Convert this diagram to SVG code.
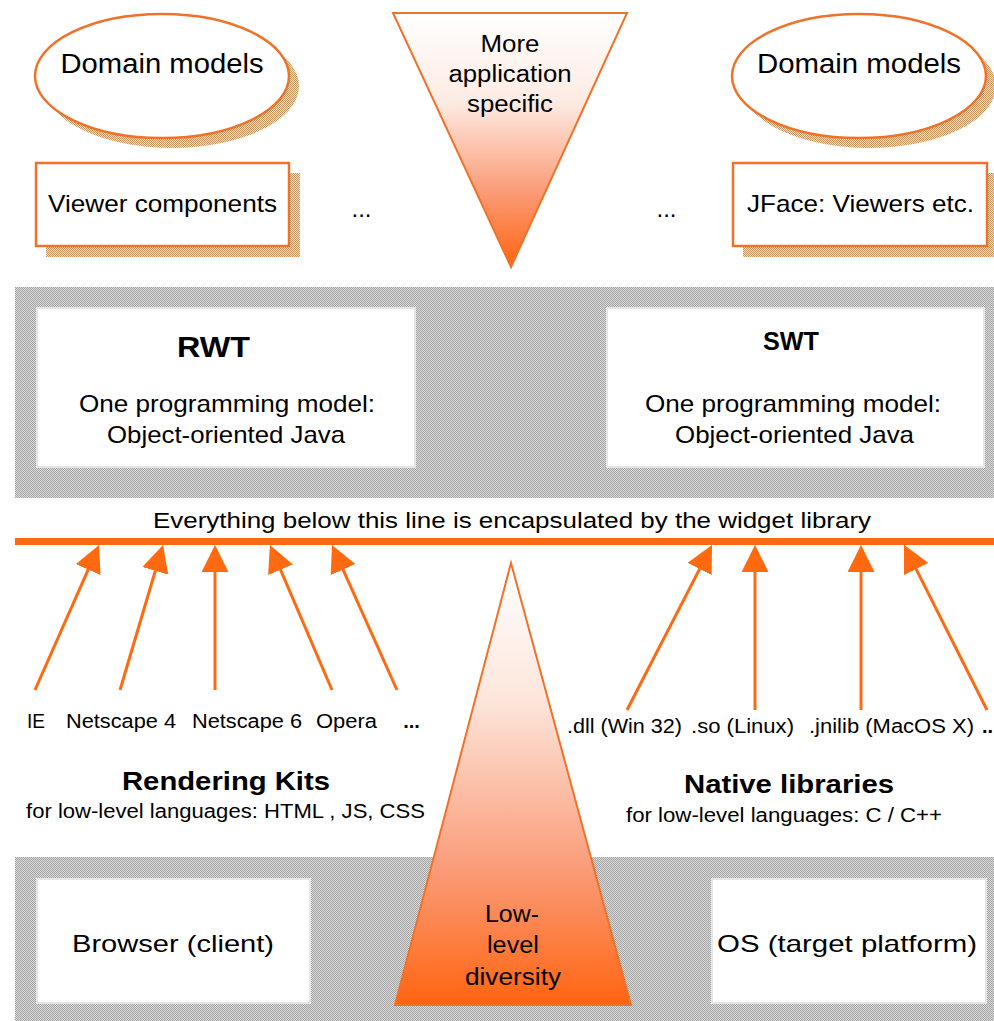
<svg xmlns="http://www.w3.org/2000/svg" width="994" height="1021" viewBox="0 0 994 1021">
<style>
text{font-family:"Liberation Sans",Arial,sans-serif;fill:#000;text-anchor:middle}
.n{font-size:24px}
.s{font-size:20px}
.b{font-weight:bold}
.node{fill:#fff;stroke:#f07228;stroke-width:2.5}
.box{fill:#fff;stroke:#e6e6e6;stroke-width:2}
.band{fill:url(#grey)}
.sh{fill:url(#tan)}
.arr{stroke:#ff6a10;stroke-width:3;fill:none;marker-end:url(#ah)}
</style>
<defs>
<pattern id="grey" width="2" height="2" patternUnits="userSpaceOnUse">
<rect width="2" height="2" fill="#d8d8d8"/><rect width="1" height="1" fill="#a6a6a6"/><rect x="1" y="1" width="1" height="1" fill="#a6a6a6"/>
</pattern>
<pattern id="tan" width="2" height="2" patternUnits="userSpaceOnUse">
<rect width="2" height="2" fill="#f0dcc2"/><rect width="1" height="1" fill="#c8965e"/><rect x="1" y="1" width="1" height="1" fill="#c8965e"/>
</pattern>
<linearGradient id="gTop" x1="0" y1="0" x2="0" y2="1">
<stop offset="0" stop-color="#ffffff"/><stop offset="0.35" stop-color="#fdebe3"/><stop offset="0.7" stop-color="#fb9c78"/><stop offset="1" stop-color="#ff6410"/>
</linearGradient>
<linearGradient id="gBot" x1="0" y1="0" x2="0" y2="1">
<stop offset="0" stop-color="#ffffff"/><stop offset="0.3" stop-color="#fde7dd"/><stop offset="0.7" stop-color="#fa9a76"/><stop offset="1" stop-color="#ff6410"/>
</linearGradient>
<marker id="ah" viewBox="0 0 10 10" refX="7" refY="5" markerWidth="9" markerHeight="9" orient="auto">
<path d="M0,0 L10,5 L0,10 z" fill="#ff6a10"/>
</marker>
</defs>
<rect width="994" height="1021" fill="#fff"/>

<g id="band-top">
<rect class="band" x="15" y="287" width="979" height="211"/>
</g>
<g id="band-bottom">
<rect class="band" x="15" y="857" width="979" height="164"/>
</g>

<g id="domain-left">
<ellipse class="sh" cx="172" cy="86" rx="127" ry="62"/>
<ellipse class="node" cx="162" cy="76" rx="127" ry="62"/>
<text x="162" y="73" style="font-size:27px" textLength="203" lengthAdjust="spacingAndGlyphs">Domain models</text>
</g>
<g id="domain-right">
<ellipse class="sh" cx="869" cy="86" rx="127" ry="62"/>
<ellipse class="node" cx="859" cy="76" rx="127" ry="62"/>
<text x="859" y="73" style="font-size:27px" textLength="204" lengthAdjust="spacingAndGlyphs">Domain models</text>
</g>
<g id="viewer-components">
<rect class="sh" x="46" y="173" width="254" height="84"/>
<rect class="node" x="36" y="163" width="253" height="83"/>
<text class="n" x="162.5" y="212" textLength="229" lengthAdjust="spacingAndGlyphs">Viewer components</text>
</g>
<g id="jface">
<rect class="sh" x="743" y="173" width="254" height="84"/>
<rect class="node" x="733" y="163" width="254" height="83"/>
<text class="n" x="860.5" y="212" textLength="227" lengthAdjust="spacingAndGlyphs">JFace: Viewers etc.</text>
</g>
<g id="dots-top">
<text class="n" x="361.5" y="217">...</text>
<text class="n" x="666.5" y="217">...</text>
</g>
<g id="more-specific">
<polygon points="393,13 627,13 511,267" fill="url(#gTop)" stroke="#f07228" stroke-width="2"/>
<text x="510" y="52" style="font-size:23px" textLength="59" lengthAdjust="spacingAndGlyphs">More</text>
<text x="510" y="82" style="font-size:23px" textLength="123" lengthAdjust="spacingAndGlyphs">application</text>
<text x="510" y="112" style="font-size:23px" textLength="86" lengthAdjust="spacingAndGlyphs">specific</text>
</g>

<g id="rwt">
<rect class="box" x="37" y="308" width="378" height="159"/>
<text class="b" x="213.5" y="357" style="font-size:30px" textLength="73" lengthAdjust="spacingAndGlyphs">RWT</text>
<text class="n" x="227" y="412" textLength="296" lengthAdjust="spacingAndGlyphs">One programming model:</text>
<text class="n" x="226" y="443" textLength="238" lengthAdjust="spacingAndGlyphs">Object-oriented Java</text>
</g>
<g id="swt">
<rect class="box" x="607" y="308" width="377" height="159"/>
<text class="b" x="791" y="350" style="font-size:25px" textLength="56" lengthAdjust="spacingAndGlyphs">SWT</text>
<text class="n" x="793" y="412" textLength="296" lengthAdjust="spacingAndGlyphs">One programming model:</text>
<text class="n" x="794.5" y="443" textLength="239" lengthAdjust="spacingAndGlyphs">Object-oriented Java</text>
</g>

<g id="encapsulation-line">
<text x="512" y="528" style="font-size:22px" textLength="718" lengthAdjust="spacingAndGlyphs">Everything below this line is encapsulated by the widget library</text>
<rect x="15" y="538" width="979" height="7" fill="#ff6a10"/>
</g>

<g id="low-level-diversity">
<polygon points="511,563 631,1005 395,1005" fill="url(#gBot)" stroke="#f07228" stroke-width="2"/>
<text x="512" y="922" style="font-size:23px" textLength="54" lengthAdjust="spacingAndGlyphs">Low-</text>
<text x="513" y="953" style="font-size:23px" textLength="52" lengthAdjust="spacingAndGlyphs">level</text>
<text x="513" y="985" style="font-size:23px" textLength="96" lengthAdjust="spacingAndGlyphs">diversity</text>
</g>

<g id="connectors">
<path class="arr" d="M35,690 L95.8,552.3"/>
<path class="arr" d="M120,690 L160.7,552.7"/>
<path class="arr" d="M215,690 L215,553"/>
<path class="arr" d="M332,690 L273.1,552.4"/>
<path class="arr" d="M397,690 L335.3,552.3"/>
<path class="arr" d="M627,710 L708.3,552.1"/>
<path class="arr" d="M755,710 L755,553"/>
<path class="arr" d="M861,710 L861,553"/>
<path class="arr" d="M987,710 L907.6,552.1"/>
</g>

<g id="rendering-kits">
<text class="s" x="36" y="728" textLength="18" lengthAdjust="spacingAndGlyphs">IE</text>
<text class="s" x="121" y="728" textLength="110" lengthAdjust="spacingAndGlyphs">Netscape 4</text>
<text class="s" x="247" y="728" textLength="110" lengthAdjust="spacingAndGlyphs">Netscape 6</text>
<text class="s" x="346.5" y="728" textLength="61" lengthAdjust="spacingAndGlyphs">Opera</text>
<text class="s b" x="411.5" y="728">...</text>
<text class="b" x="226" y="790" style="font-size:25px" textLength="208" lengthAdjust="spacingAndGlyphs">Rendering Kits</text>
<text class="s" x="225.5" y="818" textLength="399" lengthAdjust="spacingAndGlyphs">for low-level languages: HTML , JS, CSS</text>
</g>
<g id="native-libraries">
<text class="s" x="624.5" y="733" textLength="115" lengthAdjust="spacingAndGlyphs">.dll (Win 32)</text>
<text class="s" x="742.5" y="733" textLength="103" lengthAdjust="spacingAndGlyphs">.so (Linux)</text>
<text class="s" x="891.5" y="733" textLength="165" lengthAdjust="spacingAndGlyphs">.jnilib (MacOS X)</text>
<text class="s b" x="987.5" y="733">..</text>
<text class="b" x="789" y="793" style="font-size:25px" textLength="210" lengthAdjust="spacingAndGlyphs">Native libraries</text>
<text class="s" x="784" y="822" textLength="316" lengthAdjust="spacingAndGlyphs">for low-level languages: C / C++</text>
</g>

<g id="browser">
<rect class="box" x="37" y="879" width="273" height="124"/>
<text class="n" x="173" y="952" textLength="202" lengthAdjust="spacingAndGlyphs">Browser (client)</text>
</g>
<g id="os">
<rect class="box" x="712" y="879" width="274" height="124"/>
<text class="n" x="847" y="952" textLength="260" lengthAdjust="spacingAndGlyphs">OS (target platform)</text>
</g>
</svg>
